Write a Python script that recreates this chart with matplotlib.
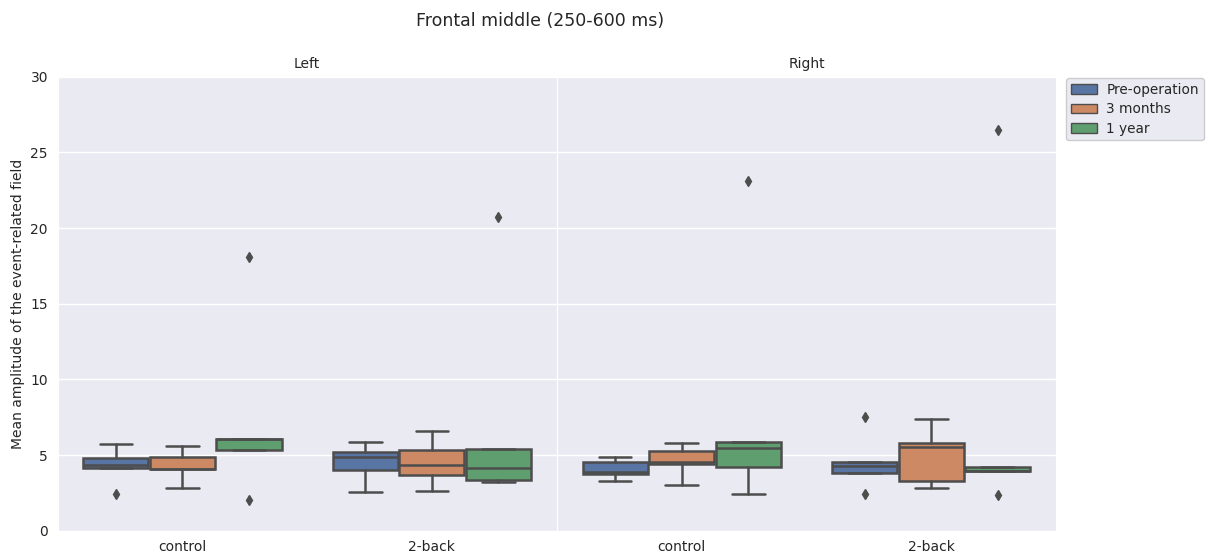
import matplotlib
matplotlib.use("Agg")
import matplotlib.pyplot as plt
from matplotlib.patches import Patch
import seaborn as sns

sides = ["Left", "Right"]
conditions = ["control", "2-back"]
sessions = ["Pre-operation", "3 months", "1 year"]

# Box statistics, indexed [side][condition][session]
whislo = [[[4.15, 2.82, 5.31], [2.54, 2.62, 3.20]],
          [[3.26, 3.03, 2.40], [3.83, 2.80, 3.94]]]
q1 = [[[4.15, 4.10, 5.31], [3.99, 3.66, 3.33]],
      [[3.72, 4.38, 4.19], [3.83, 3.28, 3.94]]]
med = [[[4.33, 4.10, 6.06], [4.85, 4.36, 4.16]],
       [[3.90, 4.52, 5.48], [4.27, 5.51, 3.97]]]
q3 = [[[4.78, 4.85, 6.06], [5.18, 5.31, 5.40]],
      [[4.52, 5.28, 5.86], [4.56, 5.77, 4.19]]]
whishi = [[[5.72, 5.57, 6.06], [5.86, 6.59, 5.40]],
          [[4.89, 5.77, 5.86], [4.56, 7.38, 4.19]]]
fliers = [[[[2.42], [], [18.08, 2.03]], [[], [], [20.71]]],
          [[[], [], [23.09]], [[7.51, 2.40], [], [26.47, 2.36]]]]

yticks = [0, 5, 10, 15, 20, 25, 30]

sns.set_theme(style="darkgrid")
plt.rcParams["font.family"] = ["DejaVu Sans"]

palette = [sns.desaturate(c, 0.75) for c in sns.color_palette("deep", 3)]
gray = (0.3, 0.3, 0.3)

fig = plt.figure(figsize=(12.08, 5.6), dpi=100)
W, H = 1208, 560
bottom = (H - 530.7) / H
height = (530.7 - 76.7) / H
axes = [fig.add_axes([57.7 / W, bottom, (556.6 - 57.7) / W, height]),
        fig.add_axes([556.9 / W, bottom, (1056 - 556.9) / W, height])]

n = len(sessions)
width = 0.8 / n
for si, ax in enumerate(axes):
    for spine in ax.spines.values():
        spine.set_linewidth(0.8)
    for ci in range(len(conditions)):
        for hi in range(n):
            pos = ci - 0.4 + width * (hi + 0.5)
            stats = [dict(whislo=whislo[si][ci][hi], q1=q1[si][ci][hi],
                          med=med[si][ci][hi], q3=q3[si][ci][hi],
                          whishi=whishi[si][ci][hi],
                          fliers=fliers[si][ci][hi])]
            ax.bxp(stats, positions=[pos], widths=width * 0.98,
                   patch_artist=True, manage_ticks=False,
                   boxprops=dict(facecolor=palette[hi], edgecolor=gray,
                                 linewidth=1.8),
                   medianprops=dict(color=gray, linewidth=1.8),
                   whiskerprops=dict(color=gray, linewidth=1.8),
                   capprops=dict(color=gray, linewidth=1.8),
                   flierprops=dict(marker="d", markersize=5,
                                   markerfacecolor=gray,
                                   markeredgecolor=gray))
    ax.set_xlim(-0.5, len(conditions) - 0.5)
    ax.set_ylim(0, 30)
    ax.set_xticks(range(len(conditions)))
    ax.set_xticklabels(conditions, fontsize=10)
    ax.set_yticks(yticks)
    ax.xaxis.grid(False)
    ax.tick_params(axis="both", labelsize=10, length=0, pad=7)
    ax.set_title(sides[si], fontsize=10)

axes[1].set_yticklabels([])
axes[0].set_yticklabels([str(t) for t in yticks])
axes[0].set_ylabel("Mean amplitude of the event-related field", fontsize=10)

handles = [Patch(facecolor=palette[i], edgecolor=gray, linewidth=1.0,
                 label=sessions[i]) for i in range(n)]
fig.legend(handles=handles, loc="upper left",
           bbox_to_anchor=(1066 / W, 1 - 78 / H), borderaxespad=0,
           fontsize=9.8, facecolor="#EAEAF2", edgecolor="0.8",
           framealpha=1.0, labelspacing=0.4, handlelength=1.9,
           handletextpad=0.7, borderpad=0.35)

fig.text(540.5 / W, 1 - 21 / H, "Frontal middle (250-600 ms)",
         ha="center", va="center", fontsize=12.5)

fig.savefig("out.png", dpi=100)
